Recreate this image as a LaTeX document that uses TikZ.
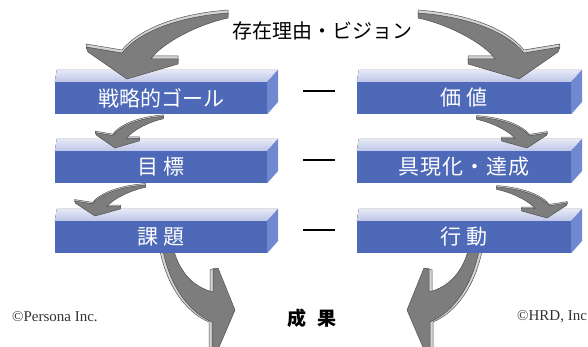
\documentclass[tikz,border=0pt]{standalone}
\usepackage{fontspec}
\setmainfont{Noto Sans CJK JP}
\newfontfamily\serifc{Liberation Serif}
\usetikzlibrary{calc}
\definecolor{barfront}{HTML}{4E69B8}
\definecolor{barside}{HTML}{7088CF}
\definecolor{bartop}{HTML}{BEC6E8}
\definecolor{bartoplight}{HTML}{E6E9F6}
\definecolor{arrfill}{HTML}{7D7D7D}
\definecolor{arredge}{HTML}{505050}
\definecolor{arrlight}{HTML}{D4D4D4}
\newcommand{\arrowpath}{(101,-66) .. controls (48,-62) and (11,-46) .. (-5,-26) -- (-41,-32) -- (-39,-27) -- (0,0) -- (51,-15) -- (51,-20) -- (24,-20) .. controls (33,-34) and (68,-54) .. (101,-61) -- cycle}
\newcommand{\botpath}{(163,251) .. controls (170,285) and (188,312) .. (212,322) -- (212,352) -- (217,352) -- (235,310) -- (218,268) -- (213,270) -- (213,292) .. controls (193,287) and (180,272) .. (174,251) -- cycle}
\tikzset{
  frontbox/.style={fill=barfront, text=white, minimum height=32pt, inner sep=0pt,
    font=\fontsize{21pt}{21pt}\selectfont},
  leftbox/.style={frontbox, minimum width=212pt},
  rightbox/.style={frontbox, minimum width=214pt},
  arrbody/.style={fill=arrfill, draw=arredge, line width=0.5pt, line join=round},
  arrhl/.style={fill=arrlight, draw=arredge, line width=0.5pt, line join=round},
  dashln/.style={line width=1.4pt},
  copytext/.style={font=\serifc\fontsize{15pt}{15pt}\selectfont, text=black!80, anchor=west, inner sep=0pt},
  pics/curvearrow/.style={code={
    \filldraw[arrhl, shift={(0,-3)}] \arrowpath;
    \filldraw[arrbody] \arrowpath;
  }},
}
\begin{document}
\begin{tikzpicture}[x=1pt,y=-1pt]
\useasboundingbox (0,0) rectangle (588,347);
\clip (0,0) rectangle (588,347);
\fill[white] (0,0) rectangle (588,347);
% bottom arrows (behind bars)
\filldraw[arrhl, shift={(-3,0)}] \botpath;
\filldraw[arrbody] \botpath;
\begin{scope}[xshift=642pt, xscale=-1]
\filldraw[arrhl, shift={(-3,0)}] \botpath;
\filldraw[arrbody] \botpath;
\end{scope}
% bars
\node[leftbox] (l1) at (161,98) {戦略的ゴール};
\node[leftbox] (l2) at (161,167) {目\hspace{5pt}標};
\node[leftbox] (l3) at (161,237) {課\hspace{5pt}題};
\node[rightbox] (r1) at (464,98) {価\hspace{5pt}値};
\node[rightbox] (r2) at (464,167) {具\kern1pt 現\kern1pt 化\kern1pt ・\kern1pt 達\kern1pt 成};
\node[rightbox] (r3) at (464,237) {行\hspace{5pt}動};
\foreach \b in {l1,l2,l3,r1,r2,r3} {
  \fill[top color=bartoplight, bottom color=bartop] (\b.north west) -- ++(2,-12) -- ($(\b.north east)+(11,-12)$) -- (\b.north east) -- cycle;
  \fill[barside] (\b.north east) -- ++(11,-12) -- ++(0,32) -- (\b.south east) -- cycle;
}
% dashes
\foreach \a/\c in {l1/r1,l2/r2,l3/r3}
  \draw[dashln] ($(\a.east)+(36,-7)$) -- ($(\c.west)+(-22,-7)$);
% curved arrows
\pic at (127,79) {curvearrow};
\pic[xscale=-1] at (519,79) {curvearrow};
\pic[scale=0.48] at (115,148) {curvearrow};
\pic[xscale=0.5, yscale=0.47] at (95,216) {curvearrow};
\pic[xscale=-0.5, yscale=0.47] at (527,148) {curvearrow};
\pic[xscale=-0.5, yscale=0.47] at (547,218) {curvearrow};
% texts
\node[font=\fontsize{20pt}{20pt}\selectfont] (title) at (322,31) {存在理由・ビジョン};
\node[font=\fontsize{19pt}{19pt}\selectfont\bfseries] (res) at (312,318) {成\hspace{12pt}果};
\node[copytext] (c1) at (12,317) {©Persona Inc.};
\node[copytext] (c2) at (517,317) {©HRD, Inc};
\end{tikzpicture}
\end{document}
